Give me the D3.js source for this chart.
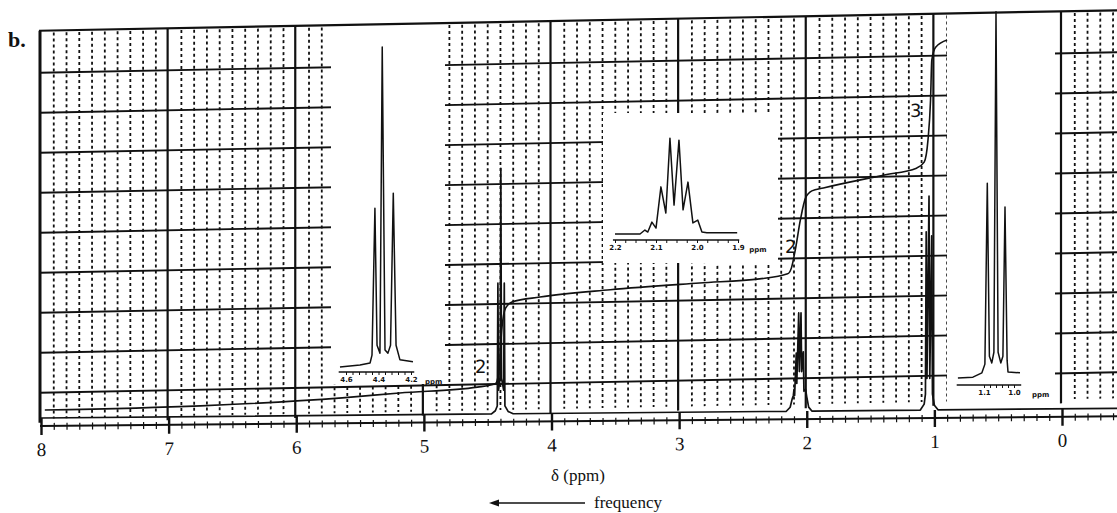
<!DOCTYPE html>
<html>
<head>
<meta charset="utf-8">
<script src="https://cdn.jsdelivr.net/npm/d3@7"></script>
<style>
html, body { margin: 0; padding: 0; background: #fff; }
svg { display: block; }
</style>
</head>
<body>
<svg id="chart" width="1117" height="513"></svg>
<script>
// 1H NMR spectrum, panel b (1-nitropropane) on chart paper

const axisTicks = [8, 7, 6, 5, 4, 3, 2, 1, 0];

// main trace: [ppm, height in chart divisions]
const spectrum = [
  [8.0, 0], [4.47, 0], [4.44, 0.08], [4.425, 0.2], [4.42, 3.3], [4.415, 0.6],
  [4.402, 0.9], [4.397, 6.2], [4.392, 0.9], [4.375, 0.6], [4.37, 3.3], [4.365, 0.2],
  [4.34, 0.06], [4.30, 0],
  [2.16, 0], [2.13, 0.1], [2.115, 0.3], [2.105, 0.4], [2.1, 0.55], [2.095, 0.4],
  [2.082, 1.47], [2.078, 0.7], [2.063, 2.48], [2.058, 1.0], [2.045, 2.48], [2.04, 1.0],
  [2.027, 1.5], [2.022, 0.5], [2.009, 0.55], [2.0, 0.36], [1.985, 0.1], [1.96, 0],
  [1.11, 0], [1.08, 0.15], [1.07, 0.4], [1.064, 4.5], [1.058, 0.8], [1.042, 5.4],
  [1.036, 0.8], [1.021, 4.4], [1.015, 0.4], [1.0, 0.12], [0.97, 0], [-0.45, 0]
];

// integrator trace
const integral = [
  [7.97, 0.20], [6.75, 0.27], [5.64, 0.44], [5.19, 0.55], [4.58, 0.68], [4.44, 0.76],
  [4.41, 1.11], [4.39, 2.12], [4.36, 2.67], [4.31, 2.82], [4.09, 2.94], [3.54, 3.11],
  [2.84, 3.26], [2.37, 3.35], [2.15, 3.47], [2.12, 3.62], [2.09, 4.07], [2.05, 4.83],
  [2.01, 5.38], [1.96, 5.56], [1.87, 5.63], [1.40, 5.94], [1.14, 6.11], [1.08, 6.26],
  [1.05, 6.82], [1.03, 7.83], [1.02, 8.84], [0.99, 9.16], [0.90, 9.34]
];
// integral step labels: [ppm, height, text]
const integralLabels = [[4.60, 1.04, "2"], [2.17, 4.0, "2"], [1.19, 7.4, "3"]];

// expansions
const inset1 = [
  [4.637, -0.05], [4.514, 0], [4.452, 0.05], [4.44, 0.25], [4.422, 3.96], [4.409, 0.5],
  [4.391, 0.3], [4.377, 8.03], [4.36, 0.38], [4.342, 0.3], [4.326, 0.5], [4.309, 4.34],
  [4.292, 0.5], [4.268, 0.13], [4.188, 0.08]
];
const inset1Ticks = [4.6, 4.4, 4.2];

const inset2 = [
  [2.2, 0], [2.139, 0], [2.127, 0.1], [2.12, 0.05], [2.11, 0.3], [2.1, 0.15],
  [2.088, 1.19], [2.076, 0.53], [2.066, 2.42], [2.056, 0.73], [2.044, 2.37], [2.034, 0.61],
  [2.022, 1.31], [2.01, 0.28], [1.998, 0.35], [1.988, 0.05], [1.976, 0.03], [1.902, 0.03]
];
const inset2Ticks = [2.2, 2.1, 2.0, 1.9];

const inset3 = [
  [1.187, -0.05], [1.137, -0.03], [1.107, 0.08], [1.097, 0.3], [1.089, 4.87], [1.082, 0.5],
  [1.074, 0.33], [1.067, 0.6], [1.06, 9.2], [1.053, 0.6], [1.044, 0.33], [1.037, 0.5],
  [1.03, 4.27], [1.023, 0.4], [1.02, 0.1], [0.98, 0.08]
];
const inset3Ticks = [1.1, 1.0];

const svg = d3.select('#chart');
const W = 1117;
const ink = '#111';

const x = d3.scaleLinear().domain([8, 0]).range([41, 1062]);
const y = d3.scaleLinear().domain([0, 10]).range([418, 22]);
const deg = r => Math.atan(r) * 180 / Math.PI;

// ---------- chart paper (scanned slightly askew) ----------
const paper = svg.append('g')
  .attr('transform', `translate(185,0) skewY(${deg(-0.019)}) translate(-185,0)`);

const hLines = d3.range(0, 9).map(k => 70 + 40 * k);
paper.selectAll('.hgrid').data(hLines).enter().append('line')
  .attr('x1', 40).attr('x2', W).attr('y1', d => d).attr('y2', d => d)
  .attr('stroke', ink).attr('stroke-width', 1.9);

const minor = d3.range(0, 85).map(i => +(8 - i * 0.1).toFixed(1)).filter(v => Math.abs(v - Math.round(v)) > 1e-6);
paper.selectAll('.vdot').data(minor).enter().append('line')
  .attr('x1', d => x(d)).attr('x2', d => x(d)).attr('y1', 30).attr('y2', 416)
  .attr('stroke', ink).attr('stroke-width', 1.8).attr('stroke-dasharray', '3,3');

const majors = d3.range(0, 9).map(i => 8 - i);
paper.selectAll('.vmaj').data(majors).enter().append('line')
  .attr('x1', d => x(d) - 1).attr('x2', d => x(d) - 1).attr('y1', 28).attr('y2', 420)
  .attr('stroke', ink).attr('stroke-width', d => d === 8 ? 3 : 2.2);

// blank (white) patches where the expansions were pasted on
const blanks = [[331, 0, 114, 384], [603, 113, 175, 150], [947, 0, 108, 403]];
svg.selectAll('.blank').data(blanks).enter().append('rect')
  .attr('x', d => d[0]).attr('y', d => d[1]).attr('width', d => d[2]).attr('height', d => d[3])
  .attr('fill', '#fff');

const paperTop = svg.append('g')
  .attr('transform', `translate(185,0) skewY(${deg(-0.019)}) translate(-185,0)`);
paperTop.append('line')
  .attr('x1', 39).attr('x2', W).attr('y1', 28).attr('y2', 28)
  .attr('stroke', ink).attr('stroke-width', 2.2);

// ---------- spectrum, integral and axis ----------
const spec = svg.append('g')
  .attr('transform', `translate(40,0) skewY(${deg(-0.009)}) translate(-40,0)`);

spec.append('path')
  .datum(integral)
  .attr('d', d3.line().x(d => x(d[0])).y(d => y(d[1])).curve(d3.curveMonotoneX))
  .attr('fill', 'none').attr('stroke', ink).attr('stroke-width', 1.6);

spec.append('path')
  .datum(spectrum)
  .attr('d', d3.line().x(d => x(d[0])).y(d => y(d[1])))
  .attr('fill', 'none').attr('stroke', ink).attr('stroke-width', 1.7)
  .attr('stroke-linejoin', 'round');

spec.selectAll('.ilab').data(integralLabels).enter().append('text')
  .attr('x', d => x(d[0])).attr('y', d => y(d[1]))
  .attr('font-family', 'DejaVu Sans').attr('font-size', 18).attr('fill', ink)
  .text(d => d[2]);

const axisY = 426;
spec.append('line').attr('x1', 40).attr('x2', W).attr('y1', axisY).attr('y2', axisY)
  .attr('stroke', ink).attr('stroke-width', 2);

const minorAx = spec.append('g').attr('transform', `translate(0,${axisY})`)
  .call(d3.axisBottom(x).tickValues(minor).tickSize(4).tickSizeOuter(0).tickFormat(''));
minorAx.select('.domain').remove();
minorAx.selectAll('.tick line').attr('y1', -3).attr('stroke', ink).attr('stroke-width', 1.2);

const mainAx = spec.append('g').attr('transform', `translate(0,${axisY})`)
  .call(d3.axisBottom(x).tickValues(axisTicks).tickSize(9).tickSizeOuter(0).tickFormat(d3.format('d')));
mainAx.select('.domain').remove();
mainAx.selectAll('.tick line').attr('y1', -8).attr('stroke', ink).attr('stroke-width', 2.4);
mainAx.selectAll('.tick text')
  .attr('y', 30).attr('dy', 0)
  .attr('font-family', 'Liberation Serif').attr('font-size', 19).attr('fill', ink);

// ---------- expansions ----------
function inset(data, ticks, dom, rng, base, axisAt, step) {
  const xi = d3.scaleLinear().domain(dom).range(rng);
  const yi = d3.scaleLinear().domain([0, 10]).range([base, base - 396]);
  const g = svg.append('g');
  g.append('path').datum(data)
    .attr('d', d3.line().x(d => xi(d[0])).y(d => yi(d[1])))
    .attr('fill', 'none').attr('stroke', ink).attr('stroke-width', 1.5)
    .attr('stroke-linejoin', 'round');
  const lo = data[0][0], hi = data[data.length - 1][0];
  g.append('line').attr('x1', xi(lo + 0.2 * step)).attr('x2', xi(hi - 0.2 * step))
    .attr('y1', axisAt).attr('y2', axisAt).attr('stroke', ink).attr('stroke-width', 1.6);
  const n = Math.round((dom[0] - dom[1]) / step);
  const tv = d3.range(0, n + 1).map(i => dom[0] - i * step);
  const ax = g.append('g').attr('transform', `translate(0,${axisAt})`)
    .call(d3.axisBottom(xi).tickValues(tv).tickSize(3).tickSizeOuter(0)
      .tickFormat(v => ticks.some(t => Math.abs(t - v) < 1e-6) ? d3.format('.1f')(v) : ''));
  ax.select('.domain').remove();
  ax.selectAll('.tick line').attr('stroke', ink).attr('stroke-width', 1);
  ax.selectAll('.tick text').attr('y', 5).attr('dy', '0.71em')
    .attr('font-family', 'DejaVu Sans').attr('font-weight', 'bold')
    .attr('font-size', 7).attr('fill', ink);
  g.append('text').attr('x', xi(hi) + 12).attr('y', axisAt + 12)
    .attr('font-family', 'DejaVu Sans').attr('font-weight', 'bold')
    .attr('font-size', 7).attr('fill', ink).text('ppm');
}
inset(inset1, inset1Ticks, [4.6, 4.2], [346, 411], 365, 372, 0.04);
inset(inset2, inset2Ticks, [2.2, 1.9], [615, 738], 234, 240, 0.025);
inset(inset3, inset3Ticks, [1.1, 1.0], [984, 1014], 376, 385, 0.02);

// ---------- labels ----------
svg.append('text').attr('x', 8).attr('y', 47)
  .attr('font-family', 'Liberation Serif').attr('font-weight', 'bold').attr('font-size', 22)
  .attr('fill', ink).text('b.');

svg.append('text').attr('x', 578).attr('y', 481).attr('text-anchor', 'middle')
  .attr('font-family', 'Liberation Serif').attr('font-size', 17).attr('fill', ink)
  .text('δ (ppm)');

svg.append('line').attr('x1', 493).attr('x2', 585).attr('y1', 503).attr('y2', 503)
  .attr('stroke', ink).attr('stroke-width', 1.6);
svg.append('path').attr('d', 'M489,503 L499,499.5 L499,506.5 Z').attr('fill', ink);
svg.append('text').attr('x', 594).attr('y', 508)
  .attr('font-family', 'Liberation Serif').attr('font-size', 17).attr('fill', ink)
  .text('frequency');
</script>
</body>
</html>
